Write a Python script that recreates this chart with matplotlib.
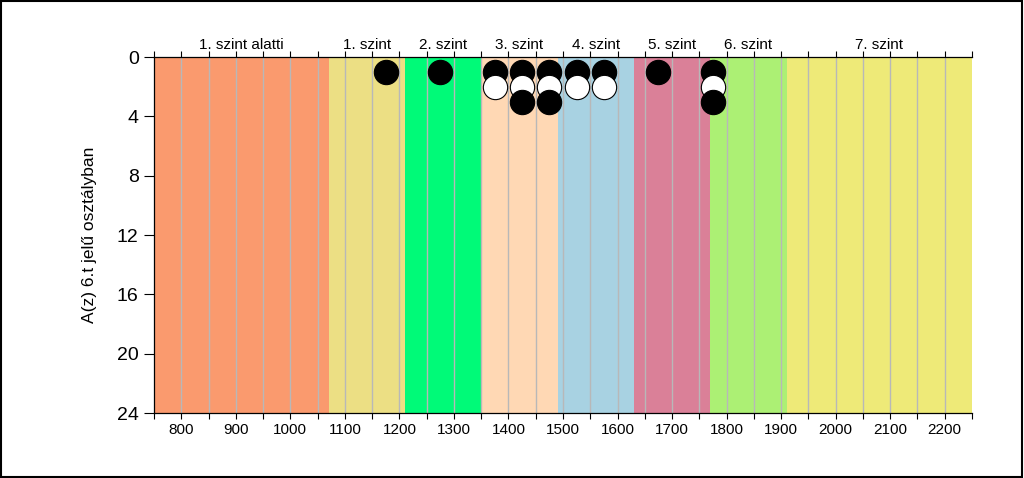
import matplotlib
matplotlib.use("Agg")
import matplotlib.pyplot as plt
from matplotlib.patches import Rectangle
import numpy as np

plt.rcParams['font.family'] = ['Liberation Sans', 'DejaVu Sans']

# Bands (level ranges)
band_labels = ["1. szint alatti", "1. szint", "2. szint", "3. szint", "4. szint",
               "5. szint", "6. szint", "7. szint"]
band_edges = [750, 1070, 1210, 1350, 1490, 1630, 1770, 1910, 2250]
band_colors = ["#FA9A6E", "#ECDF84", "#00FA78", "#FFD8B4", "#A8D2E2",
               "#DA8098", "#ACF074", "#EEEA78"]

# Binned scores and number of students in each bin
point_x = [1175, 1275, 1375, 1425, 1475, 1525, 1575, 1675, 1775]
point_counts = [1, 1, 2, 3, 3, 2, 2, 1, 3]

x_ticks = [800, 900, 1000, 1100, 1200, 1300, 1400, 1500, 1600, 1700, 1800,
           1900, 2000, 2100, 2200]
y_ticks = [0, 4, 8, 12, 16, 20, 24]
y_label = "A(z) 6.t jelű osztályban"

fig = plt.figure(figsize=(10.24, 4.78), dpi=100)
ax = fig.add_axes([154/1024, 1-413/478, (972-154)/1024, (413-57)/478])

for i in range(len(band_labels)):
    ax.axvspan(band_edges[i], band_edges[i+1], color=band_colors[i], lw=0, zorder=0)

grid_x = np.arange(800, 2250, 50)
for gx in grid_x:
    ax.axvline(gx, color="#B8B8B8", lw=1.0, zorder=1)

for x, n in zip(point_x, point_counts):
    for k in range(1, n+1):
        fc = "black" if k % 2 == 1 else "white"
        ax.plot([x], [k], marker="o", ms=17.5, mfc=fc, mec="black", mew=0.8,
                zorder=3, ls="none")

ax.set_xlim(750, 2250)
ax.set_ylim(24, 0)
ax.set_xticks(x_ticks)
ax.set_xticks(np.arange(750, 2251, 50), minor=True)
ax.set_yticks(y_ticks)
ax.tick_params(axis="x", which="both", direction="out", length=4, labelsize=11,
               top=True, labeltop=False, width=0.8)
ax.tick_params(axis="y", direction="out", length=7, labelsize=14, width=0.8, pad=4)
ax.spines['right'].set_visible(False)
for s in ['left', 'top', 'bottom']:
    ax.spines[s].set_linewidth(0.9)

for i, lab in enumerate(band_labels):
    cx = (band_edges[i] + band_edges[i+1]) / 2
    ax.text(cx, 1.015, lab, transform=ax.get_xaxis_transform(), ha="center",
            va="bottom", fontsize=11)

ax.set_ylabel(y_label, fontsize=12.5, labelpad=14)

fig.add_artist(Rectangle((0.001, 0.002), 0.997, 0.995, transform=fig.transFigure,
                         fill=False, ec="black", lw=1.5))

fig.savefig("out.png", dpi=100)
